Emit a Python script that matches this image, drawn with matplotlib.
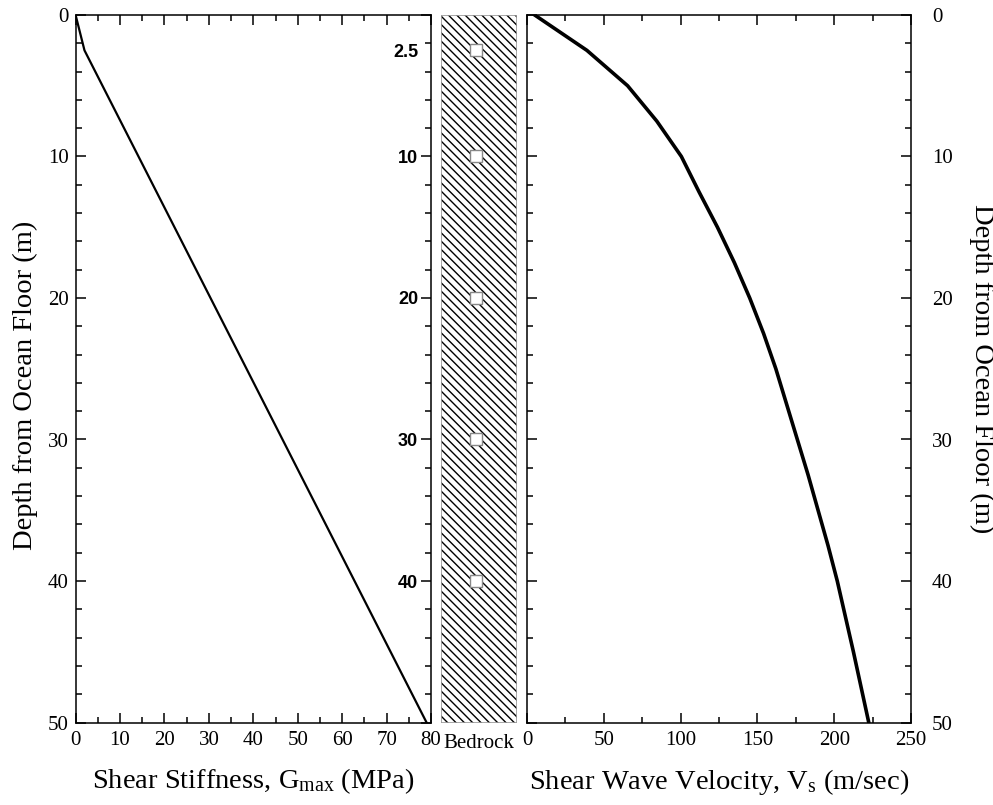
import matplotlib
matplotlib.use("Agg")
import matplotlib.pyplot as plt
from matplotlib.patches import Rectangle
from matplotlib.ticker import MultipleLocator

plt.rcParams["font.family"] = ["Liberation Serif", "DejaVu Serif"]
plt.rcParams["mathtext.fontset"] = "custom"
plt.rcParams["mathtext.rm"] = "Liberation Serif"
plt.rcParams["mathtext.it"] = "Liberation Serif:italic"
plt.rcParams["hatch.linewidth"] = 1.0

# Shear stiffness profile
gmax_depth = [0.0, 2.5, 50.0]
gmax_mpa = [0.0, 2.0, 79.0]

# Shear wave velocity profile
vs_depth = [0, 2.5, 5, 7.5, 10, 12.5, 15, 17.5, 20, 22.5, 25, 27.5, 30,
            32.5, 35, 37.5, 40, 45, 50]
vs_ms = [5, 39, 65.5, 84.5, 100.5, 112, 124, 135, 145, 154, 162, 169, 176,
         183, 189.5, 196, 202, 212.5, 222.5]

# Sensor depths within the soil column
sensor_depths = [2.5, 10, 20, 30, 40]
sensor_labels = ["2.5", "10", "20", "30", "40"]

W, H = 993, 805
fig = plt.figure(figsize=(W / 100, H / 100), dpi=100)

top_px, bot_px = 15, 722.5
bottom = (H - bot_px) / H
height = (bot_px - top_px) / H

ax_g = fig.add_axes([75.6 / W, bottom, (431 - 75.6) / W, height])
ax_c = fig.add_axes([441 / W, bottom, (517 - 441) / W, height])
ax_v = fig.add_axes([527 / W, bottom, (911 - 527) / W, height])

LABEL_FS = 20.5
TICK_FS = 15


def style_axes(ax):
    for s in ax.spines.values():
        s.set_linewidth(1.1)
    ax.tick_params(which="both", direction="in", top=True, bottom=True,
                   left=True, right=True, labelsize=TICK_FS, width=1.1)
    ax.tick_params(which="major", length=7.5)
    ax.tick_params(which="minor", length=4)
    ax.tick_params(axis="x", pad=6)
    ax.tick_params(axis="y", pad=5)


# Left panel: G_max
ax_g.plot(gmax_mpa, gmax_depth, color="black", lw=1.6)
ax_g.set_xlim(0, 80)
ax_g.set_ylim(50, 0)
ax_g.xaxis.set_major_locator(MultipleLocator(10))
ax_g.xaxis.set_minor_locator(MultipleLocator(5))
ax_g.yaxis.set_major_locator(MultipleLocator(10))
ax_g.yaxis.set_minor_locator(MultipleLocator(2))
style_axes(ax_g)
ax_g.tick_params(labelleft=True, labelright=False, labelbottom=True, labeltop=False)
ax_g.set_xlabel(r"Shear Stiffness, G$_{\mathrm{max}}$ (MPa)", fontsize=LABEL_FS,
                labelpad=12)
ax_g.set_ylabel("Depth from Ocean Floor (m)", fontsize=LABEL_FS)
ax_g.yaxis.set_label_coords(-0.106, 0.476)

# Middle: soil column with sensors
ax_c.set_xlim(0, 1)
ax_c.set_ylim(50, 0)
ax_c.axis("off")
ax_c.add_patch(Rectangle((0, 0), 1, 50, facecolor="white", edgecolor="black",
                         hatch="\\\\\\\\", linewidth=0))
ax_c.add_patch(Rectangle((0, 0), 1, 50, facecolor="none", edgecolor="#9a9a9a",
                         linewidth=1.2))
ax_c.plot([0.46] * len(sensor_depths), sensor_depths, linestyle="none",
          marker="s", markersize=8, markerfacecolor="white",
          markeredgecolor="#888888", markeredgewidth=1.0, zorder=5)
for d, lab in zip(sensor_depths, sensor_labels):
    ax_c.text(-0.30, d, lab, ha="right", va="center_baseline",
              fontsize=13, fontweight="bold", family="Liberation Sans")
ax_c.text(0.5, -0.016, "Bedrock", transform=ax_c.transAxes, ha="center",
          va="top", fontsize=15)

# Right panel: V_s
ax_v.plot(vs_ms, vs_depth, color="black", lw=2.6)
ax_v.set_xlim(0, 250)
ax_v.set_ylim(50, 0)
ax_v.xaxis.set_major_locator(MultipleLocator(50))
ax_v.xaxis.set_minor_locator(MultipleLocator(25))
ax_v.yaxis.set_major_locator(MultipleLocator(10))
ax_v.yaxis.set_minor_locator(MultipleLocator(2))
style_axes(ax_v)
ax_v.tick_params(labelleft=False, labelright=True, labelbottom=True, labeltop=False)
ax_v.tick_params(axis="y", pad=15)
ax_v.set_xlabel(r"Shear Wave Velocity, V$_{\mathrm{s}}$ (m/sec)", fontsize=LABEL_FS,
                labelpad=12)
ax_v.yaxis.set_label_position("right")
ax_v.set_ylabel("Depth from Ocean Floor (m)", fontsize=LABEL_FS, rotation=-90,
                labelpad=30)

fig.savefig("out.png", dpi=100)
